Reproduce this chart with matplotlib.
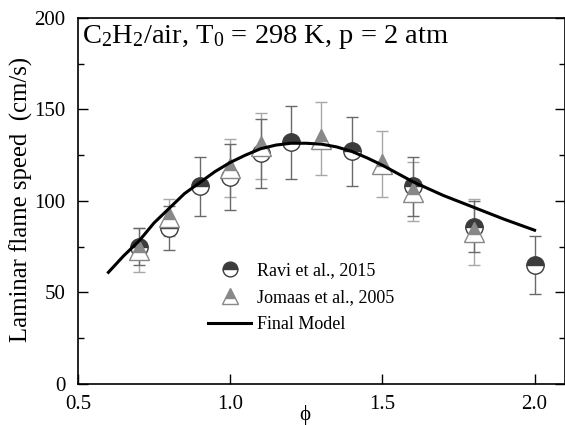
import matplotlib
matplotlib.use("Agg")
import matplotlib.pyplot as plt
from matplotlib.ticker import MultipleLocator

plt.rcParams['font.family'] = ['Liberation Serif', 'DejaVu Serif']
plt.rcParams['mathtext.fontset'] = 'custom'
plt.rcParams['mathtext.rm'] = 'Liberation Serif'
plt.rcParams['mathtext.it'] = 'Liberation Serif'

# Ravi et al., 2015
ravi_phi = [0.7, 0.8, 0.9, 1.0, 1.1, 1.2, 1.4, 1.6, 1.8, 2.0]
ravi_su = [75, 85, 108, 113, 126, 132, 127, 108, 86, 65]
ravi_err = [10, 12, 16, 18, 19, 20, 19, 16, 14, 16]

# Jomaas et al., 2005
jom_phi = [0.7, 0.8, 1.0, 1.1, 1.3, 1.5, 1.6, 1.8]
jom_su = [73, 91, 118, 130, 134, 120, 105, 83]
jom_err = [12, 10, 16, 18, 20, 18, 16, 18]

# Final Model
mod_phi = [0.6, 0.65, 0.7, 0.75, 0.8, 0.85, 0.9, 0.95, 1.0, 1.05, 1.1, 1.15, 1.2,
           1.25, 1.3, 1.35, 1.4, 1.45, 1.5, 1.55, 1.6, 1.7, 1.8, 1.9, 2.0]
mod_su = [61, 70, 78, 88, 96, 104, 110, 116, 121, 125, 128.5, 130.5, 131.5,
          131.5, 131, 129.5, 127, 123.5, 119.5, 115, 110.5, 103, 96.5, 90, 84]

fig = plt.figure(figsize=(5.65, 4.25), dpi=100)
ax = fig.add_axes([0.138, 0.0965, 0.862, 0.8615])

ax.errorbar(jom_phi, jom_su, yerr=jom_err, fmt='none', ecolor='#a8a8a8',
            elinewidth=1, capsize=4, capthick=1, zorder=2)
ax.errorbar(ravi_phi, ravi_su, yerr=ravi_err, fmt='none', ecolor='#6a6a6a',
            elinewidth=1, capsize=4, capthick=1, zorder=2)

ax.plot(ravi_phi, ravi_su, linestyle='none', marker='o', markersize=12.5,
        fillstyle='top', markerfacecolor='#3c3c3c', markerfacecoloralt='white',
        markeredgecolor='#3c3c3c', markeredgewidth=1, zorder=3,
        label='Ravi et al., 2015')
ax.plot(jom_phi, jom_su, linestyle='none', marker='^', markersize=14,
        fillstyle='top', markerfacecolor='#888888', markerfacecoloralt='white',
        markeredgecolor='#888888', markeredgewidth=1, zorder=4,
        label='Jomaas et al., 2005')
ax.plot(mod_phi, mod_su, color='black', linewidth=2.2, zorder=5,
        label='Final Model')

ax.set_xlim(0.5, 2.1)
ax.set_ylim(0, 200)
ax.yaxis.set_major_locator(MultipleLocator(50))
ax.yaxis.set_minor_locator(MultipleLocator(25))
ax.set_xticks([0.5, 1.0, 1.5, 2.0])
ax.set_xticklabels(['0.5', '1.0', '1.5', '2.0'])
ax.tick_params(axis='x', which='both', direction='in', top=False, bottom=True,
               length=7, width=1, labelsize=15, pad=8)
ax.tick_params(axis='y', which='major', direction='in', left=True, right=True,
               length=7, width=1, labelsize=15, pad=9)
ax.tick_params(axis='y', which='minor', direction='in', left=True, right=True,
               length=4, width=1)
for s in ax.spines.values():
    s.set_linewidth(1.2)

ax.set_xlabel('ϕ', fontsize=15)
ax.xaxis.set_label_coords(0.466, -0.058)
ax.set_ylabel('Laminar flame speed  (cm/s)', fontsize=17.8)
ax.yaxis.set_label_coords(-0.092, 0.503)

ax.text(0.008, 0.985, 'C$_2$H$_2$/air, T$_0$ = 298 K, p = 2 atm', transform=ax.transAxes,
        fontsize=20.5, va='top', ha='left')

ax.legend(loc='lower left', bbox_to_anchor=(0.252, 0.12), frameon=False, fontsize=13,
          handlelength=2.4, handletextpad=0.3, labelspacing=0.55, borderaxespad=0,
          markerscale=0.85)

fig.savefig('out.png', dpi=100)
